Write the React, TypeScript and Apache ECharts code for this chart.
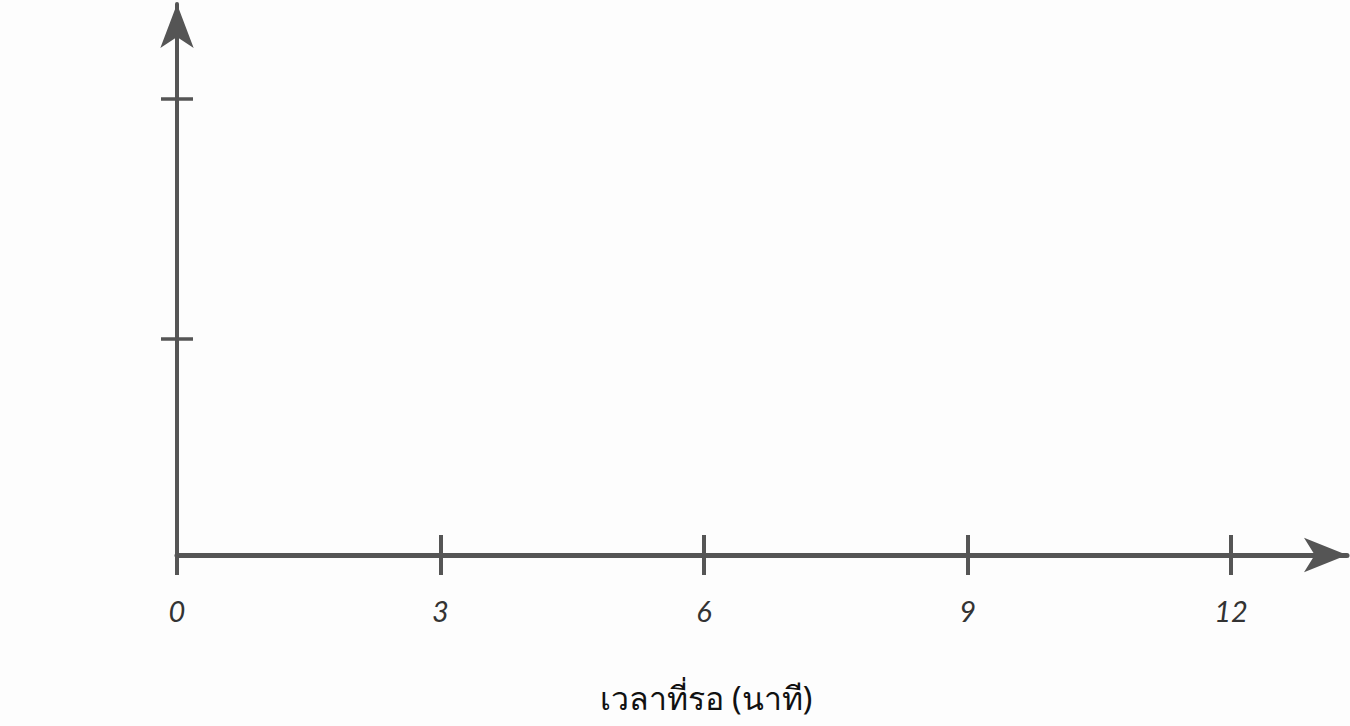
import { useEffect, useRef } from 'react'
import * as echarts from 'echarts'

const xTicks = [0, 3, 6, 9, 12]
const xMax = 13.32
const yTicks = [9, 19]
const yMax = 22.96
const xTitle = 'เวลาที่รอ (นาที)'

const axisColor = '#555555'
const labelColor = '#333333'

export default function App() {
  const chartRef = useRef<HTMLDivElement>(null)

  useEffect(() => {
    if (!chartRef.current) return
    const chart = echarts.init(chartRef.current, null, { renderer: 'svg' })

    const option = {
      animation: false,
      backgroundColor: '#fdfdfd',
      grid: { left: 177, right: 3, top: 4, bottom: 171 },
      xAxis: [
        {
          type: 'value',
          position: 'bottom',
          min: 0,
          max: xMax,
          axisLine: {
            show: true,
            symbol: ['none', 'arrow'],
            symbolSize: [26, 43],
            lineStyle: { color: axisColor, width: 5 }
          },
          axisTick: {
            show: true,
            length: 20,
            customValues: xTicks,
            lineStyle: { color: axisColor, width: 4 }
          },
          axisLabel: {
            show: true,
            customValues: xTicks,
            margin: 41,
            color: labelColor,
            fontSize: 29,
            fontStyle: 'italic',
            fontFamily: 'Lato, sans-serif'
          },
          splitLine: { show: false }
        },
        {
          type: 'value',
          position: 'bottom',
          min: 0,
          max: xMax,
          axisLine: { show: false },
          axisTick: {
            show: true,
            inside: true,
            length: 20,
            customValues: xTicks,
            lineStyle: { color: axisColor, width: 4 }
          },
          axisLabel: { show: false },
          splitLine: { show: false }
        }
      ],
      yAxis: [
        {
          type: 'value',
          position: 'left',
          min: 0,
          max: yMax,
          axisLine: {
            show: true,
            onZero: false,
            symbol: ['none', 'arrow'],
            symbolSize: [25, 44],
            lineStyle: { color: axisColor, width: 4 }
          },
          axisTick: {
            show: true,
            length: 16,
            customValues: yTicks,
            lineStyle: { color: axisColor, width: 3.5 }
          },
          axisLabel: { show: false },
          splitLine: { show: false }
        },
        {
          type: 'value',
          position: 'left',
          min: 0,
          max: yMax,
          axisLine: { show: false, onZero: false },
          axisTick: {
            show: true,
            inside: true,
            length: 16,
            customValues: yTicks,
            lineStyle: { color: axisColor, width: 3.5 }
          },
          axisLabel: { show: false },
          splitLine: { show: false }
        }
      ],
      graphic: [
        {
          type: 'text',
          x: 706,
          y: 697,
          style: {
            text: xTitle,
            fill: '#111111',
            fontSize: 32,
            fontFamily: 'Noto Sans, sans-serif',
            textAlign: 'center',
            textVerticalAlign: 'middle'
          }
        }
      ],
      series: []
    }

    chart.setOption(option)

    return () => {
      chart.dispose()
    }
  }, [])

  return (
    <div
      ref={chartRef}
      style={{ position: 'absolute', left: 0, top: 0, width: '1350px', height: '726px' }}
    />
  )
}
